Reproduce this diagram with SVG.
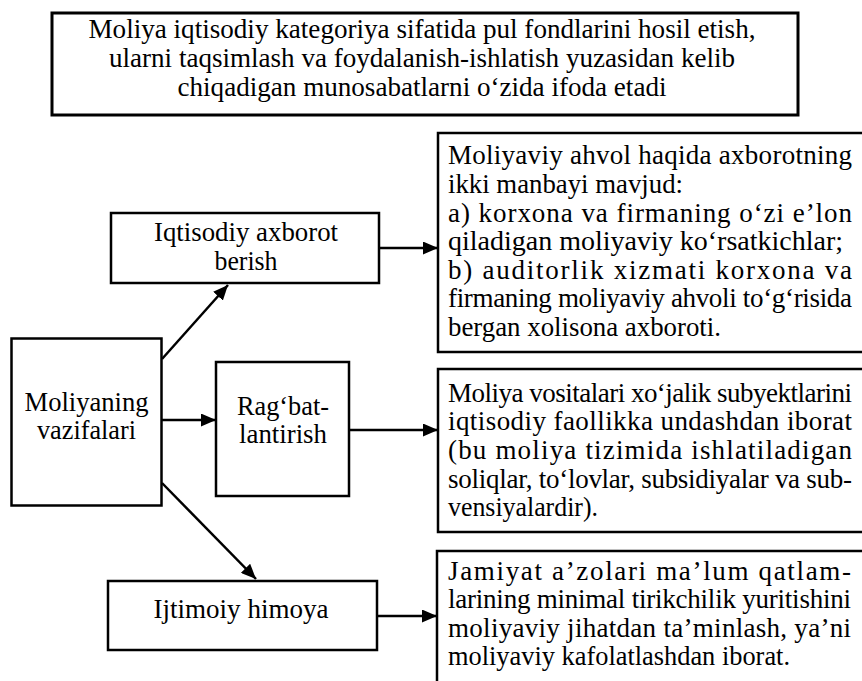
<svg xmlns="http://www.w3.org/2000/svg" width="862" height="681" viewBox="0 0 862 681">
<style>
.box{fill:#fff;stroke:#000;stroke-width:2.5}
.ln{stroke:#000;stroke-width:2.5;fill:none}
</style>
<defs>
<marker id="ah" markerUnits="userSpaceOnUse" markerWidth="15" markerHeight="13" refX="15" refY="6.5" orient="auto">
<path d="M0,0 L15,6.5 L0,13 Z" fill="#000"/>
</marker>
</defs>
<rect width="862" height="681" fill="#fff"/>
<g font-family="Liberation Serif, Noto Serif, DejaVu Serif, serif" font-size="27" fill="#000">
<g id="top">
<rect class="box" x="52" y="13" width="746" height="102" stroke-width="3" style="stroke-width:3"/>
<text text-anchor="middle" x="422" y="38" textLength="667" lengthAdjust="spacingAndGlyphs">Moliya iqtisodiy kategoriya sifatida pul fondlarini hosil etish,</text>
<text text-anchor="middle" x="422" y="67" textLength="626" lengthAdjust="spacingAndGlyphs">ularni taqsimlash va foydalanish-ishlatish yuzasidan kelib</text>
<text text-anchor="middle" x="422" y="96" textLength="489" lengthAdjust="spacingAndGlyphs">chiqadigan munosabatlarni o‘zida ifoda etadi</text>
</g>
<g id="moliyaning">
<rect class="box" x="11.5" y="338.5" width="150" height="167"/>
<text text-anchor="middle" x="86.5" y="411" textLength="124" lengthAdjust="spacingAndGlyphs">Moliyaning</text>
<text text-anchor="middle" x="86.5" y="439" textLength="99" lengthAdjust="spacingAndGlyphs">vazifalari</text>
</g>
<g id="iqtisodiy">
<rect class="box" x="111" y="213" width="268" height="70"/>
<text text-anchor="middle" x="246" y="241" textLength="184" lengthAdjust="spacingAndGlyphs">Iqtisodiy axborot</text>
<text text-anchor="middle" x="246" y="270" textLength="63" lengthAdjust="spacingAndGlyphs">berish</text>
</g>
<g id="ragbat">
<rect class="box" x="216" y="362" width="133" height="134"/>
<text text-anchor="middle" x="283" y="415" textLength="92" lengthAdjust="spacingAndGlyphs">Rag‘bat-</text>
<text text-anchor="middle" x="283" y="443" textLength="88" lengthAdjust="spacingAndGlyphs">lantirish</text>
</g>
<g id="ijtimoiy">
<rect class="box" x="108" y="581" width="269" height="69"/>
<text text-anchor="middle" x="241" y="618" textLength="175" lengthAdjust="spacingAndGlyphs">Ijtimoiy himoya</text>
</g>
<g id="info1">
<rect class="box" x="438" y="133" width="440" height="219"/>
<text x="448" y="164" textLength="404" lengthAdjust="spacing">Moliyaviy ahvol haqida axborotning</text>
<text x="448" y="193" textLength="235" lengthAdjust="spacingAndGlyphs">ikki manbayi mavjud:</text>
<text x="448" y="222" textLength="404" lengthAdjust="spacing">a) korxona va firmaning o‘zi e’lon</text>
<text x="448" y="250" textLength="395" lengthAdjust="spacingAndGlyphs">qiladigan moliyaviy ko‘rsatkichlar;</text>
<text x="448" y="279" textLength="404" lengthAdjust="spacing">b) auditorlik xizmati korxona va</text>
<text x="448" y="307" textLength="404" lengthAdjust="spacing">firmaning moliyaviy ahvoli to‘g‘risida</text>
<text x="448" y="336" textLength="273" lengthAdjust="spacingAndGlyphs">bergan xolisona axboroti.</text>
</g>
<g id="info2">
<rect class="box" x="438" y="369" width="440" height="163"/>
<text x="448" y="402" textLength="404" lengthAdjust="spacing">Moliya vositalari xo‘jalik subyektlarini</text>
<text x="448" y="430" textLength="404" lengthAdjust="spacing">iqtisodiy faollikka undashdan iborat</text>
<text x="448" y="459" textLength="404" lengthAdjust="spacing">(bu moliya tizimida ishlatiladigan</text>
<text x="448" y="488" textLength="404" lengthAdjust="spacing">soliqlar, to‘lovlar, subsidiyalar va sub-</text>
<text x="448" y="516" textLength="150" lengthAdjust="spacingAndGlyphs">vensiyalardir).</text>
</g>
<g id="info3">
<rect class="box" x="437" y="551" width="440" height="150"/>
<text x="448" y="580" textLength="403" lengthAdjust="spacing">Jamiyat a’zolari ma’lum qatlam-</text>
<text x="448" y="608" textLength="403" lengthAdjust="spacing">larining minimal tirikchilik yuritishini</text>
<text x="448" y="637" textLength="403" lengthAdjust="spacing">moliyaviy jihatdan ta’minlash, ya’ni</text>
<text x="448" y="665" textLength="342" lengthAdjust="spacingAndGlyphs">moliyaviy kafolatlashdan iborat.</text>
</g>
</g>
<g id="connectors">
<line class="ln" x1="162" y1="359" x2="228" y2="285" marker-end="url(#ah)"/>
<line class="ln" x1="162" y1="420" x2="216" y2="420" marker-end="url(#ah)"/>
<line class="ln" x1="162" y1="483" x2="256" y2="579" marker-end="url(#ah)"/>
<line class="ln" x1="379" y1="248" x2="438" y2="248" marker-end="url(#ah)"/>
<line class="ln" x1="349" y1="430" x2="438" y2="430" marker-end="url(#ah)"/>
<line class="ln" x1="377" y1="616" x2="437" y2="616" marker-end="url(#ah)"/>
</g>
</svg>
